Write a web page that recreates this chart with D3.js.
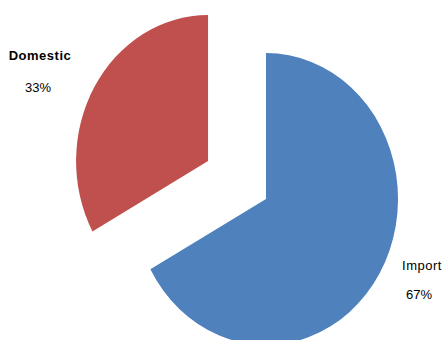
<html>
<head>
<script src="https://d3js.org/d3.v7.min.js"></script>
<style>
  body { margin: 0; background: #fff; }
  text { font-family: "Liberation Sans", Arial, sans-serif; fill: #000; }
</style>
</head>
<body>
<svg id="chart" width="444" height="340"></svg>
<script>
// slice data
var categories = ["Import", "Domestic"];
var values = [67, 33];
var colors = ["#4F81BD", "#C0504D"];
var explode = [0, 0.51];

var svg = d3.select("#chart");

// pie is a bit squashed horizontally in the reference
var rx = 132, ry = 146;
var cx = 266, cy = 199;

var pie = d3.pie().sort(null).value(function(d) { return d; });
var arcs = pie(values);

var arc = d3.arc().innerRadius(0).outerRadius(1);

var g = svg.append("g")
  .attr("transform", "translate(" + cx + "," + cy + ") scale(" + rx + "," + ry + ")");

arcs.forEach(function(a, i) {
  var mid = (a.startAngle + a.endAngle) / 2;
  var dx = Math.sin(mid) * explode[i];
  var dy = -Math.cos(mid) * explode[i];
  g.append("path")
    .attr("d", arc(a))
    .attr("transform", "translate(" + dx + "," + dy + ")")
    .style("fill", colors[i]);
});

// labels, placed like the reference (outside the slices)
var labelPos = [
  { x: 422, y: 270, py: 299, weight: "normal" },
  { x: 40, y: 60, py: 92, weight: "bold" }
];

arcs.forEach(function(a, i) {
  var p = labelPos[i];
  svg.append("text")
    .attr("x", p.x).attr("y", p.y)
    .attr("text-anchor", "middle")
    .style("font-size", "13px")
    .style("font-weight", p.weight)
    .style("letter-spacing", "0.5px")
    .text(categories[i]);
  svg.append("text")
    .attr("x", p.x - (i === 0 ? 3 : 2)).attr("y", p.py)
    .attr("text-anchor", "middle")
    .style("font-size", "13px")
    .text(values[i] + "%");
});
</script>
</body>
</html>
